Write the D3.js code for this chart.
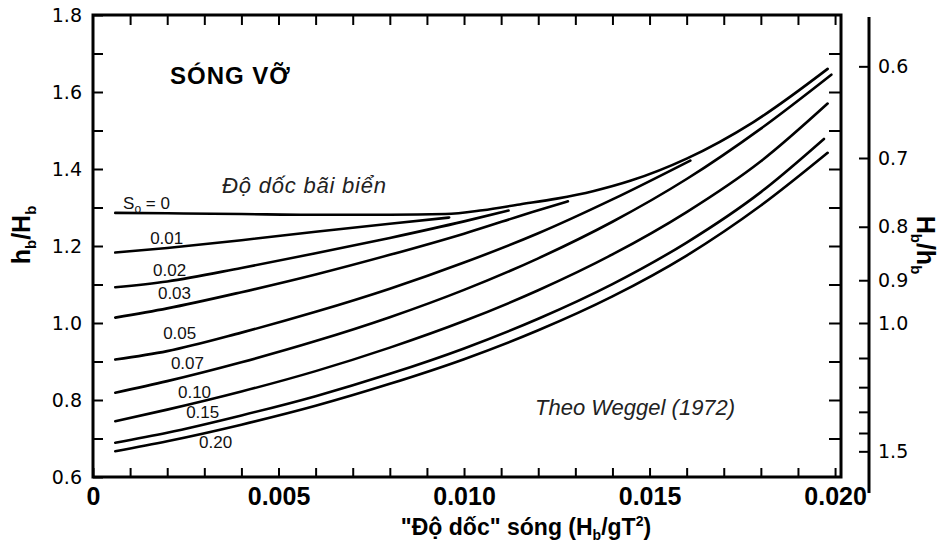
<!DOCTYPE html>
<html>
<head>
<meta charset="utf-8">
<script src="https://cdn.jsdelivr.net/npm/d3@7"></script>
<style>
  body { margin: 0; background: #fff; }
  svg { display: block; }
  .axis line { stroke: #000; stroke-width: 2; }
  .axis path { display: none; }
</style>
</head>
<body>
<svg id="chart"></svg>
<script>
// breaker steepness Hb/gT^2 vs hb/Hb, one curve per beach slope
const slopeNames = ["0", "0.01", "0.02", "0.03", "0.05", "0.07", "0.10", "0.15", "0.20"];

const curveS000 = [[0.0006,1.286],[0.002,1.285],[0.004,1.283],[0.006,1.281],[0.008,1.281],[0.0095,1.283],[0.0105,1.293],[0.0115,1.308],[0.0125,1.323],[0.0135,1.343],[0.0145,1.370],[0.016,1.427],[0.0178,1.522],[0.0198,1.660]];
const curveS001 = [[0.0006,1.183],[0.002,1.195],[0.004,1.215],[0.006,1.237],[0.008,1.258],[0.0096,1.274]];
const curveS002 = [[0.0006,1.093],[0.002,1.108],[0.004,1.143],[0.006,1.181],[0.008,1.221],[0.010,1.264],[0.0112,1.292]];
const curveS003 = [[0.0006,1.014],[0.002,1.038],[0.004,1.080],[0.006,1.126],[0.008,1.177],[0.010,1.232],[0.012,1.293],[0.0128,1.316]];
const curveS005 = [[0.0006,0.905],[0.002,0.927],[0.004,0.975],[0.006,1.029],[0.008,1.089],[0.010,1.157],[0.012,1.233],[0.014,1.321],[0.0161,1.422]];
const curveS007 = [[0.0006,0.819],[0.002,0.849],[0.004,0.898],[0.006,0.953],[0.008,1.015],[0.010,1.086],[0.012,1.168],[0.014,1.263],[0.016,1.374],[0.018,1.505],[0.0199,1.645]];
const curveS010 = [[0.0006,0.745],[0.002,0.775],[0.004,0.822],[0.006,0.875],[0.008,0.936],[0.010,1.005],[0.012,1.085],[0.014,1.178],[0.016,1.288],[0.018,1.420],[0.0198,1.570]];
const curveS015 = [[0.0006,0.689],[0.002,0.715],[0.004,0.760],[0.006,0.810],[0.008,0.868],[0.010,0.934],[0.012,1.011],[0.014,1.101],[0.016,1.209],[0.018,1.340],[0.0197,1.478]];
const curveS020 = [[0.0006,0.667],[0.002,0.693],[0.004,0.736],[0.006,0.785],[0.008,0.842],[0.010,0.906],[0.012,0.981],[0.014,1.069],[0.016,1.175],[0.018,1.305],[0.0198,1.442]];

const curves = [curveS000, curveS001, curveS002, curveS003, curveS005, curveS007, curveS010, curveS015, curveS020];

const xTicks = d3.range(0, 0.0205, 0.001);
const xLabels = [0, 0.005, 0.010, 0.015, 0.020];
const yTicks = d3.range(0.6, 1.85, 0.1);
const rightTicks = [0.6, 0.7, 0.8, 0.9, 1.0, 1.1, 1.2, 1.3, 1.4, 1.5];
const rightLabels = [0.6, 0.7, 0.8, 0.9, 1.0, 1.5];

// where each slope label sits (left edge, baseline) in chart units
const labelSpots = [[0.00081,1.296],[0.00154,1.205],[0.00162,1.122],[0.00175,1.062],[0.00189,0.958],[0.0021,0.881],[0.00229,0.805],[0.00251,0.753],[0.00286,0.675]];

const width = 952, height = 545;
const plot = { left: 93, right: 841, top: 15, bottom: 477 };

const svg = d3.select("#chart").attr("width", width).attr("height", height);

const x = d3.scaleLinear().domain([0, 0.02016]).range([plot.left, plot.right]);
const y = d3.scaleLinear().domain([0.6, 1.8]).range([plot.bottom, plot.top]);
// Hb/hb is the reciprocal of hb/Hb
const yRight = d3.scalePow().exponent(-1).domain([1 / 1.8, 1 / 0.6]).range([plot.top, plot.bottom]);

const numFont = "DejaVu Sans, sans-serif";
const boldFont = "Liberation Sans, Arial, sans-serif";

// bottom axis
const xAxis = svg.append("g").attr("class", "axis")
  .attr("transform", `translate(0,${plot.bottom})`)
  .call(d3.axisBottom(x).tickValues(xTicks).tickSizeInner(-9).tickSizeOuter(0).tickPadding(10)
    .tickFormat(d => {
      const hit = xLabels.find(v => Math.abs(v - d) < 1e-7);
      if (hit === undefined) return "";
      return hit === 0 ? "0" : hit.toFixed(3);
    }));
xAxis.selectAll("text").attr("font-family", boldFont).attr("font-weight", "bold")
  .attr("font-size", 25).attr("fill", "#000");

// top axis, ticks only
svg.append("g").attr("class", "axis")
  .attr("transform", `translate(0,${plot.top})`)
  .call(d3.axisTop(x).tickValues(xTicks.slice(1)).tickSizeInner(-10).tickSizeOuter(0).tickFormat(""));

// left axis
const yAxis = svg.append("g").attr("class", "axis")
  .attr("transform", `translate(${plot.left},0)`)
  .call(d3.axisLeft(y).tickValues(yTicks).tickSizeInner(-10).tickSizeOuter(0).tickPadding(11)
    .tickFormat((d, i) => i % 2 === 0 ? d.toFixed(1) : ""));
yAxis.selectAll("text").attr("font-family", numFont).attr("font-size", 19).attr("fill", "#000");

// right frame ticks
svg.append("g").attr("class", "axis")
  .attr("transform", `translate(${plot.right},0)`)
  .call(d3.axisRight(y).tickValues(yTicks.slice(1, -1)).tickSizeInner(-12).tickSizeOuter(0).tickFormat(""));

// frame
svg.append("rect")
  .attr("x", plot.left).attr("y", plot.top)
  .attr("width", plot.right - plot.left).attr("height", plot.bottom - plot.top)
  .attr("fill", "none").attr("stroke", "#000").attr("stroke-width", 3);

// separate Hb/hb axis
const rx = 869;
const rAxis = svg.append("g").attr("class", "axis")
  .attr("transform", `translate(${rx},0)`)
  .call(d3.axisRight(yRight).tickValues(rightTicks).tickSizeInner(-10).tickSizeOuter(0).tickPadding(9)
    .tickFormat(d => rightLabels.some(v => Math.abs(v - d) < 1e-7) ? d.toFixed(1) : ""));
rAxis.selectAll("text").attr("font-family", numFont).attr("font-size", 19).attr("fill", "#000");
svg.append("line")
  .attr("x1", rx).attr("x2", rx).attr("y1", 17).attr("y2", 493)
  .attr("stroke", "#000").attr("stroke-width", 3);

// curves
const line = d3.line()
  .x(d => x(d[0]))
  .y(d => y(d[1]))
  .curve(d3.curveMonotoneX);

svg.append("g").selectAll("path")
  .data(curves)
  .join("path")
  .attr("d", line)
  .attr("fill", "none")
  .attr("stroke", "#000")
  .attr("stroke-width", 2.6)
  .attr("stroke-linecap", "round");

// slope labels
const lab = svg.append("g")
  .attr("font-family", "Liberation Sans, Arial, sans-serif")
  .attr("font-size", 17)
  .attr("fill", "#111");
slopeNames.forEach((name, i) => {
  const t = lab.append("text")
    .attr("x", x(labelSpots[i][0]))
    .attr("y", y(labelSpots[i][1]));
  if (i === 0) {
    t.append("tspan").text("S");
    t.append("tspan").attr("font-size", 12).attr("dy", 4).text("o");
    t.append("tspan").attr("dy", -4).text(" = " + name);
  } else {
    t.text(name);
  }
});

// titles and notes
svg.append("text")
  .attr("x", 170).attr("y", 84)
  .attr("font-family", boldFont).attr("font-weight", "bold")
  .attr("font-size", 24).attr("letter-spacing", 1)
  .text("SÓNG VỠ");

svg.append("text")
  .attr("x", 222).attr("y", 193)
  .attr("font-family", boldFont).attr("font-style", "italic")
  .attr("font-size", 22).attr("letter-spacing", 0.8).attr("fill", "#222")
  .text("Độ dốc bãi biển");

svg.append("text")
  .attr("x", 535).attr("y", 415)
  .attr("font-family", boldFont).attr("font-style", "italic")
  .attr("font-size", 22).attr("fill", "#222")
  .text("Theo Weggel (1972)");

// x axis title
const xt = svg.append("text")
  .attr("x", (395 + 657) / 2).attr("y", 535)
  .attr("text-anchor", "middle")
  .attr("font-family", boldFont).attr("font-weight", "bold").attr("font-size", 23);
xt.append("tspan").text("\"Độ dốc\" sóng (H");
xt.append("tspan").attr("font-size", 14).attr("dy", 5).text("b");
xt.append("tspan").attr("dy", -5).text("/gT");
xt.append("tspan").attr("font-size", 14).attr("dy", -9).text("2");
xt.append("tspan").attr("dy", 9).text(")");

// left title hb/Hb
const yl = svg.append("text")
  .attr("transform", "translate(30,235) rotate(-90)")
  .attr("text-anchor", "middle")
  .attr("font-family", boldFont).attr("font-weight", "bold").attr("font-size", 25);
yl.append("tspan").text("h");
yl.append("tspan").attr("font-size", 15).attr("dy", 6).text("b");
yl.append("tspan").attr("dy", -6).text("/H");
yl.append("tspan").attr("font-size", 15).attr("dy", 6).text("b");

// right title Hb/hb
const yr = svg.append("text")
  .attr("transform", "translate(917,245) rotate(90)")
  .attr("text-anchor", "middle")
  .attr("font-family", boldFont).attr("font-weight", "bold").attr("font-size", 25);
yr.append("tspan").text("H");
yr.append("tspan").attr("font-size", 15).attr("dy", 6).text("b");
yr.append("tspan").attr("dy", -6).text("/h");
yr.append("tspan").attr("font-size", 15).attr("dy", 6).text("b");
</script>
</body>
</html>
